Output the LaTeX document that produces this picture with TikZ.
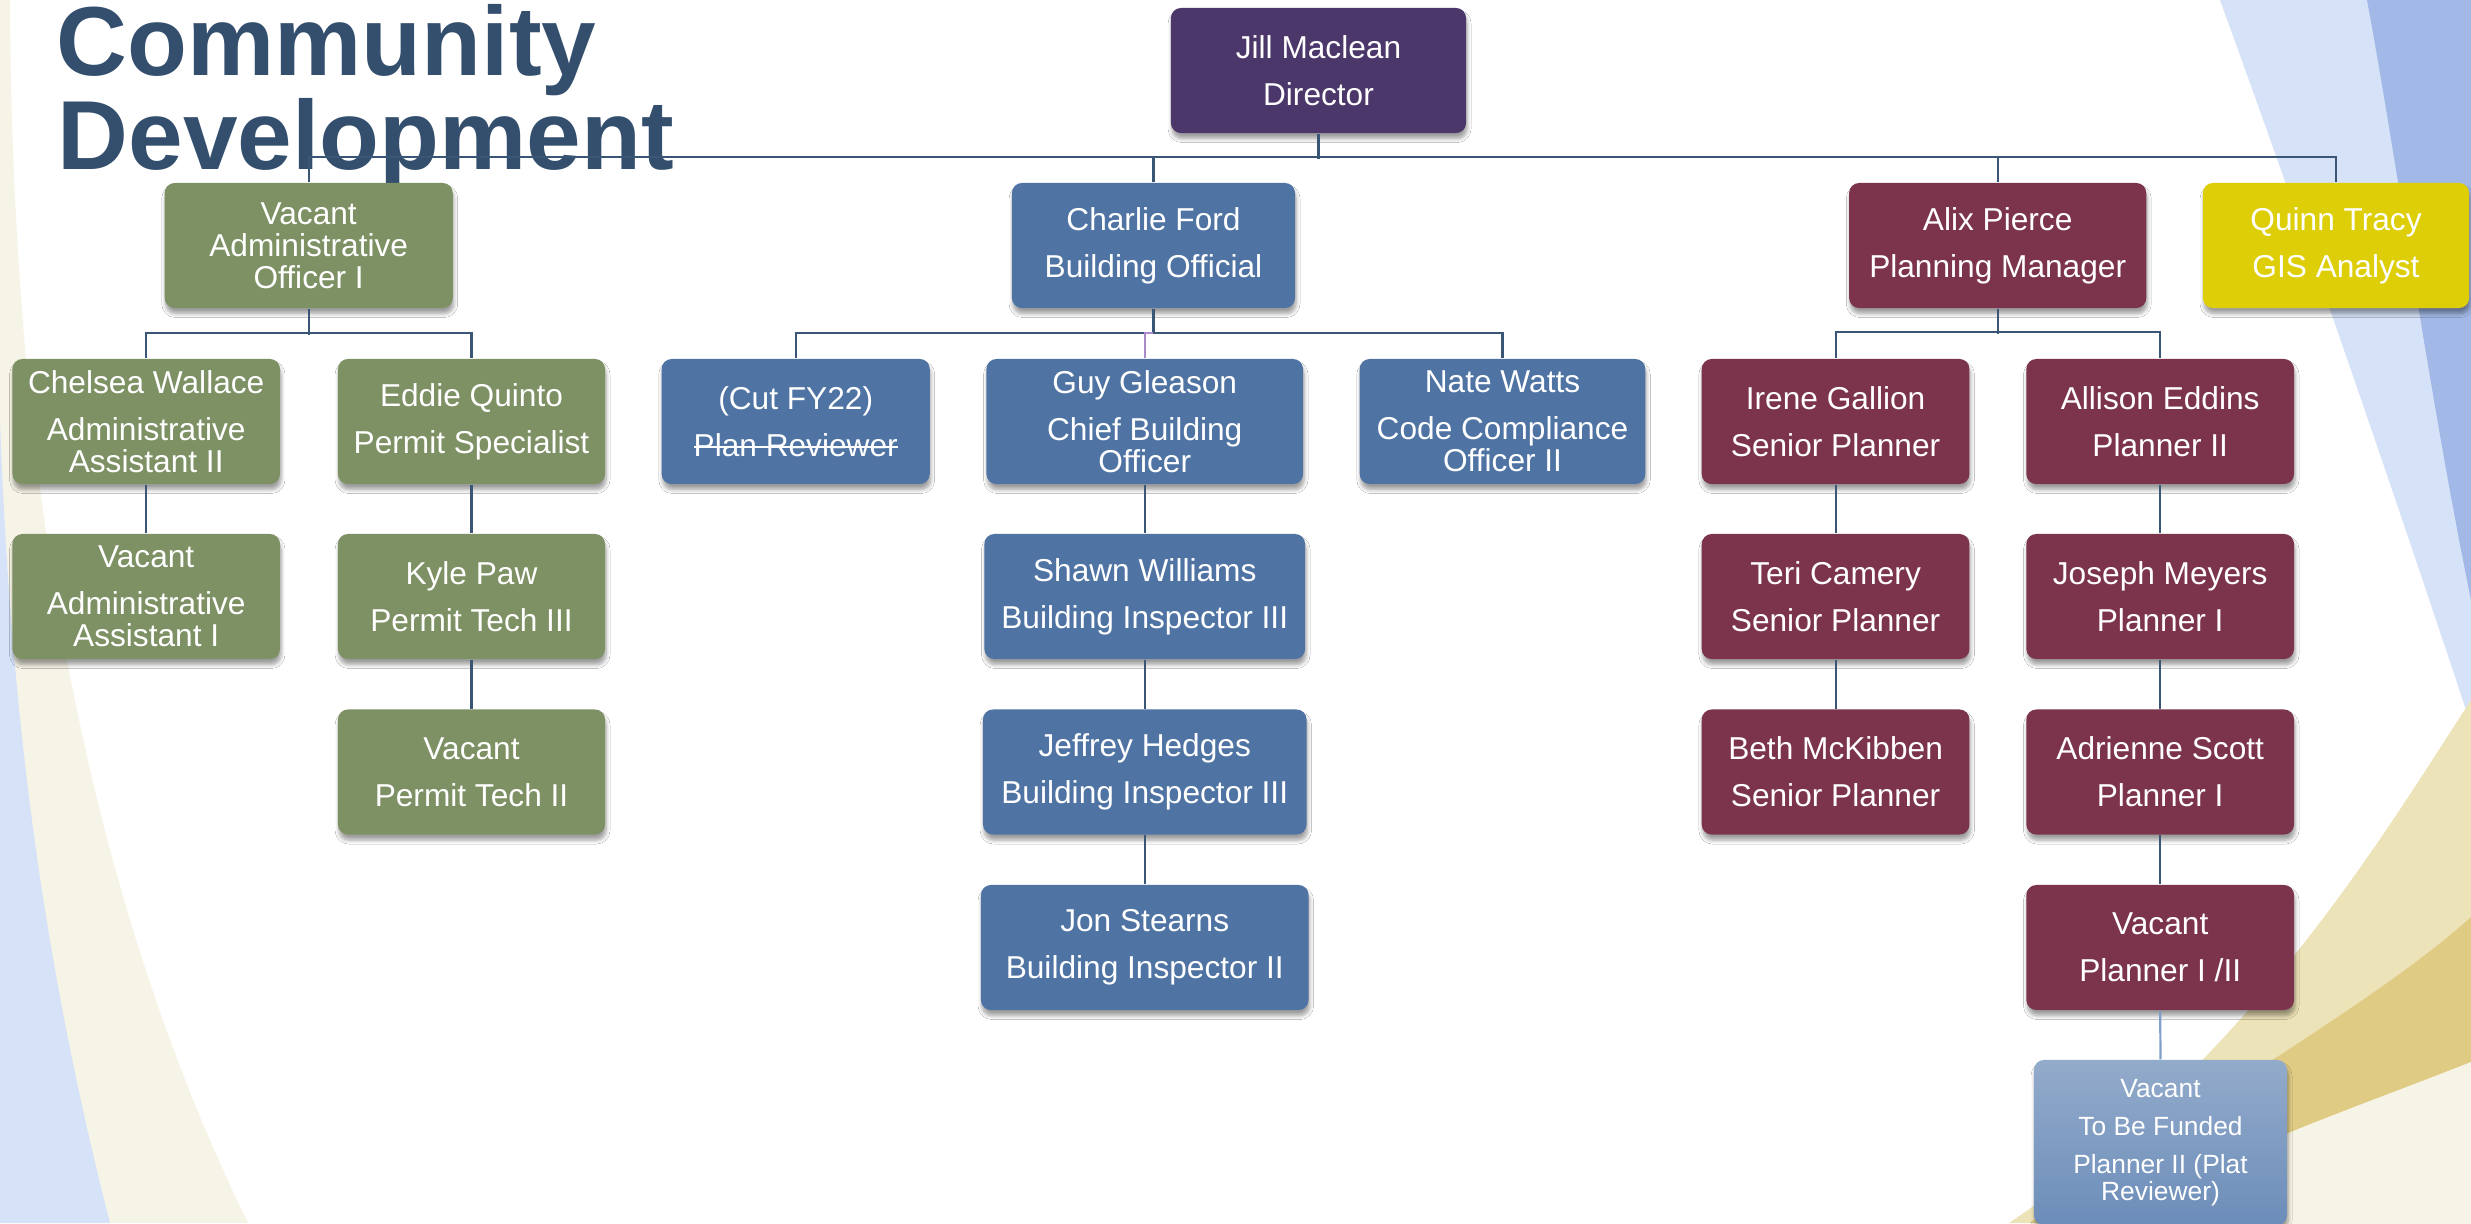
\documentclass[tikz,border=0pt]{standalone}
\usepackage{fontspec}
\setmainfont{Liberation Sans}
\usetikzlibrary{shadows.blur}
\definecolor{titlec}{HTML}{344F6E}
\definecolor{linec}{HTML}{3A5676}
\definecolor{lavc}{HTML}{A98BC9}
\definecolor{lconnc}{HTML}{7F9FC9}
\definecolor{purp}{HTML}{4B3769}
\definecolor{grn}{HTML}{7E9164}
\definecolor{blu}{HTML}{4F74A4}
\definecolor{mar}{HTML}{7C344C}
\definecolor{yel}{HTML}{DDCE08}
\definecolor{fadetop}{HTML}{93ABCB}
\definecolor{fadebot}{HTML}{6C8DB9}
\definecolor{creamc}{HTML}{F6F4E6}
\definecolor{lbluec}{HTML}{D5E2F8}
\definecolor{dbluec}{HTML}{A2B9E7}
\definecolor{lgoldc}{HTML}{EDE3B8}
\definecolor{dgoldc}{HTML}{E0CB84}
\newsavebox\strkbox
\newcommand\strk[1]{\sbox\strkbox{#1}\rlap{\rule[0.27em]{\wd\strkbox}{0.6pt}}\usebox\strkbox}
\newcommand\tightbr{\\[-4.3pt]}
\newcommand\smalltightbr{\\[-3.1pt]}
\newcommand\boxfont{\fontsize{9pt}{13.4pt}\selectfont}
\newcommand\smallboxfont{\fontsize{7.5pt}{10.8pt}\selectfont}
\newcommand\titlefont{\fontsize{27.9pt}{30pt}\selectfont\bfseries}
\begin{document}
\begin{tikzpicture}[x=0.01cm,y=-0.01cm,
  bx/.style={rounded corners=0.1cm, inner sep=0pt, align=center, text=white,
    minimum height=1.25cm, font=\boxfont,
    blur shadow={shadow xshift=0.3pt, shadow yshift=-1.6pt, shadow blur radius=1.1pt, shadow blur steps=6, shadow opacity=38}},
  purplebox/.style={bx, fill=purp},
  greenbox/.style={bx, fill=grn},
  bluebox/.style={bx, fill=blu},
  redbox/.style={bx, fill=mar},
  yellowbox/.style={bx, fill=yel},
  fadebox/.style={bx, top color=fadetop, bottom color=fadebot, font=\smallboxfont},
  titlet/.style={font=\titlefont, text=titlec, inner sep=0pt, anchor=base west},
  conn/.style={draw=linec, line width=0.022cm},
  lavconn/.style={draw=lavc, line width=0.022cm},
  lconn/.style={draw=lconnc, line width=0.022cm}]
\useasboundingbox (0,0) rectangle (2471,1223);
\clip (0,0) rectangle (2471,1223);
\fill[white] (0,0) rectangle (2471,1223);
% background decoration
\fill[creamc] (0,0) -- (10,0) .. controls (12,500) and (90,900) .. (248,1223) -- (0,1223) -- cycle;
\fill[lbluec] (0,420) .. controls (10,700) and (40,950) .. (110,1223) -- (0,1223) -- cycle;
\fill[lbluec] (2220,0) .. controls (2300,220) and (2390,480) .. (2471,725) -- (2471,0) -- cycle;
\fill[dbluec] (2367,0) .. controls (2395,150) and (2430,400) .. (2471,600) -- (2471,0) -- cycle;
\fill[lgoldc] (2471,700) .. controls (2380,840) and (2250,1060) .. (2009,1223) -- (2471,1223) -- cycle;
\fill[dgoldc] (2471,917) .. controls (2380,1000) and (2200,1100) .. (2030,1223) -- (2471,1223) -- cycle;
\fill[creamc] (2471,1062) .. controls (2350,1110) and (2200,1160) .. (2110,1223) -- (2471,1223) -- cycle;
% title
\node[titlet] (t1) at (56,75) {Community};
\node[titlet] (t2) at (57,169) {Development};
% level 0/1
\node[purplebox, minimum width=2.95cm] (dir) at (1318.5,70.5) {Jill Maclean\\Director};
\node[greenbox, minimum width=2.88cm] (admoff) at (308.7,245.5) {Vacant\tightbr Administrative\tightbr Officer I};
\node[bluebox, minimum width=2.83cm] (charlie) at (1153.5,245.5) {Charlie Ford\\Building Official};
\node[redbox, minimum width=2.97cm] (alix) at (1997.7,245.5) {Alix Pierce\\Planning Manager};
\node[yellowbox, minimum width=2.66cm] (quinn) at (2336,245.5) {Quinn Tracy\\GIS Analyst};
% green column
\node[greenbox, minimum width=2.675cm] (chelsea) at (146.2,421.5) {Chelsea Wallace\\Administrative\tightbr Assistant II};
\node[greenbox, minimum width=2.67cm] (eddie) at (471.5,421.5) {Eddie Quinto\\Permit Specialist};
\node[greenbox, minimum width=2.675cm] (vaa1) at (146.2,596.5) {Vacant\\Administrative\tightbr Assistant I};
\node[greenbox, minimum width=2.67cm] (kyle) at (471.5,596.5) {Kyle Paw\\Permit Tech III};
\node[greenbox, minimum width=2.67cm] (vpt2) at (471.5,772) {Vacant\\Permit Tech II};
% blue column
\node[bluebox, minimum width=2.68cm] (cut) at (795.7,421.5) {(Cut FY22)\\\strk{Plan Reviewer}};
\node[bluebox, minimum width=3.165cm] (guy) at (1144.75,421.5) {Guy Gleason\\Chief Building\tightbr Officer};
\node[bluebox, minimum width=2.855cm] (nate) at (1502.5,421.5) {Nate Watts\\Code Compliance\tightbr Officer II};
\node[bluebox, minimum width=3.206cm] (shawn) at (1144.75,596.5) {Shawn Williams\\Building Inspector III};
\node[bluebox, minimum width=3.234cm] (jeff) at (1144.75,772) {Jeffrey Hedges\\Building Inspector III};
\node[bluebox, minimum width=3.275cm] (jon) at (1144.75,947.5) {Jon Stearns\\Building Inspector II};
% planning column
\node[redbox, minimum width=2.676cm] (irene) at (1835.6,421.5) {Irene Gallion\\Senior Planner};
\node[redbox, minimum width=2.676cm] (allison) at (2160.2,421.5) {Allison Eddins\\Planner II};
\node[redbox, minimum width=2.676cm] (teri) at (1835.6,596.5) {Teri Camery\\Senior Planner};
\node[redbox, minimum width=2.676cm] (joseph) at (2160.2,596.5) {Joseph Meyers\\Planner I};
\node[redbox, minimum width=2.676cm] (beth) at (1835.6,772) {Beth McKibben\\Senior Planner};
\node[redbox, minimum width=2.676cm] (adrienne) at (2160.2,772) {Adrienne Scott\\Planner I};
\node[redbox, minimum width=2.676cm] (vplan) at (2160.2,947.5) {Vacant\\Planner I /II};
\node[fadebox, minimum width=2.53cm, minimum height=1.65cm] (tbf) at (2160.5,1142.5) {Vacant\\To Be Funded\\Planner II (Plat\smalltightbr Reviewer)};
% connectors
\draw[conn] (admoff.north) -- ++(0,-25) -| (quinn.north);
\draw[conn] (dir.south) -- ++(0,25);
\draw[conn] (charlie.north) -- ++(0,-25);
\draw[conn] (alix.north) -- ++(0,-25);
\draw[conn] (admoff.south) -- ++(0,26);
\draw[conn] (chelsea.north) -- ++(0,-25) -| (eddie.north);
\draw[conn] (chelsea.south) -- (vaa1.north);
\draw[conn] (eddie.south) -- (kyle.north);
\draw[conn] (kyle.south) -- (vpt2.north);
\draw[conn] (charlie.south) -- ++(0,25.5);
\draw[conn] (cut.north) -- ++(0,-25.5) -| (nate.north);
\draw[lavconn] (guy.north) -- ++(0,-25.5) -- ++(8.5,0);
\draw[conn] (guy.south) -- (shawn.north);
\draw[conn] (shawn.south) -- (jeff.north);
\draw[conn] (jeff.south) -- (jon.north);
\draw[conn] (alix.south) -- ++(0,25);
\draw[conn] (irene.north) -- ++(0,-26) -| (allison.north);
\draw[conn] (irene.south) -- (teri.north);
\draw[conn] (teri.south) -- (beth.north);
\draw[conn] (allison.south) -- (joseph.north);
\draw[conn] (joseph.south) -- (adrienne.north);
\draw[conn] (adrienne.south) -- (vplan.north);
\draw[lconn] (vplan.south) -- (tbf.north);
\end{tikzpicture}
\end{document}
